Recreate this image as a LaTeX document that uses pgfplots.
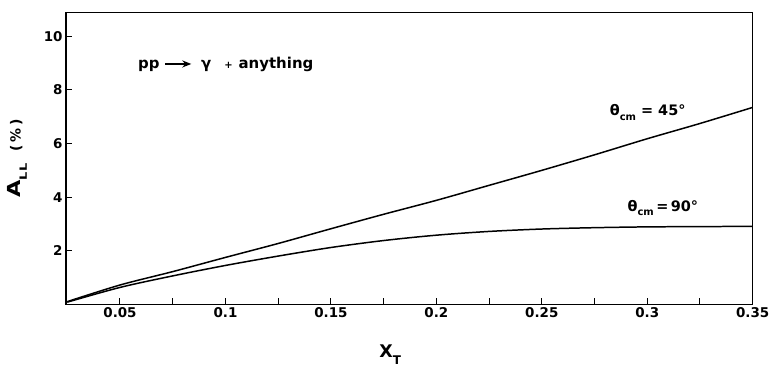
\documentclass[border=0pt]{standalone}
\usepackage{fontspec}
\setmainfont{DejaVu Sans}
\usepackage{pgfplots}
\usetikzlibrary{arrows.meta}
\pgfplotsset{compat=1.18}
\pgfplotstableread{
x y
0.025 0.10
0.050 0.72
0.075 1.22
0.100 1.75
0.125 2.27
0.150 2.82
0.175 3.36
0.200 3.88
0.225 4.44
0.250 5.00
0.275 5.58
0.300 6.18
0.325 6.75
0.350 7.35
}\deg
\pgfplotstableread{
x y
0.025 0.08
0.050 0.63
0.075 1.06
0.100 1.45
0.125 1.80
0.150 2.12
0.175 2.38
0.200 2.58
0.225 2.72
0.250 2.81
0.275 2.86
0.300 2.89
0.325 2.90
0.350 2.91
}\degn
\begin{document}
\begin{tikzpicture}
\useasboundingbox (-66bp,-62bp) rectangle (709bp,304.3bp);
\begin{axis}[
  at={(0,0)}, anchor=south west,
  scale only axis, width=686.7bp, height=292bp,
  xmin=0.0244, xmax=0.35, ymin=0, ymax=10.9,
  xtick={0.05,0.1,0.15,0.2,0.25,0.3,0.35},
  xticklabels={0.05,0.1,0.15,0.2,0.25,0.3,0.35},
  minor xtick={0.075,0.125,0.175,0.225,0.275,0.325},
  ytick={2,4,6,8,10},
  tick pos=left, tick align=inside,
  major tick length=6bp, minor tick length=6bp,
  every tick/.style={black, line width=1pt},
  axis line style={line width=1.2pt},
  /pgf/number format/assume math mode=true,
  tick label style={font=\fontsize{13.5}{16}\selectfont\bfseries},
  xlabel={X\raisebox{-0.4em}{\fontsize{12}{12}\selectfont\bfseries T}},
  ylabel={{\addfontfeatures{FakeStretch=1.25}A}\raisebox{-0.35em}{\fontsize{10}{10}\selectfont\bfseries\addfontfeatures{FakeStretch=1.3,LetterSpace=10}LL}\hspace{11bp}{\fontsize{14}{14}\selectfont (\hspace{3bp}\%\hspace{3bp})}},
  xlabel style={font=\fontsize{17.5}{20}\selectfont\bfseries, at={(axis description cs:0.472,0)}, anchor=center, yshift=-50bp},
  ylabel style={font=\fontsize{18}{20}\selectfont\bfseries, at={(axis description cs:-0.071,0.5)}, anchor=center},
  clip=false,
]
\addplot[black, line width=1.5pt, smooth] table[x=x,y=y]{\deg};
\addplot[black, line width=1.5pt, smooth] table[x=x,y=y]{\degn};
\node[anchor=west, font=\fontsize{15}{17}\selectfont\bfseries, inner sep=0pt] at (axis cs:0.0585,8.94)
  {pp\hspace{5bp}\tikz[baseline=-0.6ex]\draw[line width=1.6pt,-{Stealth[length=9bp,width=7bp]}] (0,0)--(26bp,0);\hspace{9bp}γ\hspace{13bp}{\fontsize{10}{10}\selectfont +}\hspace{6bp}anything};
\node[anchor=center, font=\fontsize{14.5}{16}\selectfont\bfseries] at (axis cs:0.3002,7.16)
  {θ\raisebox{-0.3em}{\fontsize{10}{10}\selectfont cm} = 45°};
\node[anchor=center, font=\fontsize{14.5}{16}\selectfont\bfseries] at (axis cs:0.3074,3.6)
  {θ\raisebox{-0.3em}{\fontsize{10}{10}\selectfont cm}\,=\,90°};
\end{axis}
\end{tikzpicture}
\end{document}
